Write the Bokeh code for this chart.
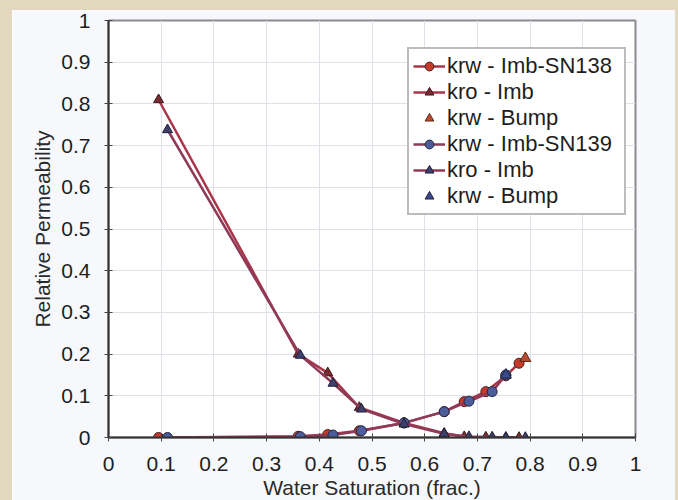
from bokeh.plotting import figure
from bokeh.models import Legend, LegendItem, Range1d, FixedTicker
from bokeh.embed import file_html
from bokeh.resources import INLINE

# Imbibition relative permeability, sample SN138
sw_138 = [0.095, 0.360, 0.416, 0.476, 0.561, 0.637, 0.675, 0.716, 0.754, 0.779]
krw_138 = [0.000, 0.003, 0.007, 0.016, 0.035, 0.062, 0.086, 0.110, 0.148, 0.178]
kro_138 = [0.810, 0.200, 0.155, 0.072, 0.035, 0.010, 0.002, 0.001, 0.000, 0.000]
bump_sw_138 = [0.791]
bump_krw_138 = [0.190]

# Imbibition relative permeability, sample SN139
sw_139 = [0.112, 0.364, 0.426, 0.480, 0.561, 0.637, 0.684, 0.728, 0.754, 0.791]
krw_139 = [0.000, 0.002, 0.006, 0.016, 0.035, 0.062, 0.087, 0.110, 0.150, None]
kro_139 = [0.738, 0.197, 0.130, 0.068, 0.032, 0.009, 0.002, 0.001, 0.000, 0.000]
bump_sw_139 = [0.754]
bump_krw_139 = [0.150]

ticks = [round(0.1 * i, 1) for i in range(11)]
tick_labels = {t: ("0" if t == 0 else ("1" if t == 1 else f"{t:g}")) for t in ticks}

FONT = "Liberation Sans"
BEIGE = "#e2d7bf"
PAGE = "#f6f8fb"

# the beige frame is drawn as CSS borders on the figure host; the canvas keeps
# the full 678x500 layout and is offset by the left/top borders
p = figure(
    width=678, height=500,
    x_range=Range1d(0, 1), y_range=Range1d(0, 1),
    output_backend="svg", toolbar_location=None,
    min_border_left=96, min_border_right=55,
    min_border_top=10, min_border_bottom=73,
    background_fill_color="#ffffff",
    border_fill_color=PAGE,
    outline_line_color="#8a8a8a", outline_line_width=2,
    styles={
        "border-top": f"10px solid {BEIGE}",
        "border-left": f"12px solid {BEIGE}",
        "border-right": f"3px solid {BEIGE}",
    },
)

for ax in (p.xaxis[0], p.yaxis[0]):
    ax.ticker = FixedTicker(ticks=ticks)
    ax.major_label_overrides = tick_labels
    ax.minor_tick_line_color = None
    ax.major_tick_in = 4
    ax.major_tick_out = 4
    ax.major_tick_line_color = "#444444"
    ax.axis_line_color = "#333333"
    ax.axis_line_width = 2
    ax.major_label_text_font = FONT
    ax.major_label_text_font_size = "21px"
    ax.major_label_text_color = "#1e1e1e"
    ax.axis_label_text_font = FONT
    ax.axis_label_text_font_style = "normal"
    ax.axis_label_text_color = "#2a2a2a"
    ax.axis_label_text_font_size = "21px"

p.xaxis.axis_label = "Water Saturation (frac.)"
p.xaxis.axis_label_standoff = 2
p.xaxis.major_label_standoff = 15
p.yaxis.axis_label = "Relative Permeability"
p.yaxis.axis_label_standoff = 4
p.yaxis.major_label_standoff = 14

p.xgrid.ticker = FixedTicker(ticks=ticks)
p.ygrid.ticker = FixedTicker(ticks=ticks)
p.grid.grid_line_color = "#dde2ea"
p.grid.grid_line_width = 1

# SN138 curves
LINE_138 = "#a8354a"
l_krw138 = p.line(sw_138, krw_138, line_color=LINE_138, line_width=2.5)
m_krw138 = p.scatter(sw_138, krw_138, marker="circle", size=10,
                     fill_color="#c63a2c", line_color="#4a1e22", line_width=1)
l_kro138 = p.line(sw_138, kro_138, line_color=LINE_138, line_width=2.5)
m_kro138 = p.scatter(sw_138, kro_138, marker="triangle", size=10,
                     fill_color="#7c2c30", line_color="#3a1a1e", line_width=1)
m_bump138 = p.scatter(bump_sw_138, bump_krw_138, marker="triangle", size=11,
                      fill_color="#bb4a2c", line_color="#5a2a1e", line_width=1)

# SN139 curves
LINE_139 = "#8e3a58"
sw_139w = [s for s, k in zip(sw_139, krw_139) if k is not None]
krw_139w = [k for k in krw_139 if k is not None]
l_krw139 = p.line(sw_139w, krw_139w, line_color=LINE_139, line_width=2.5)
m_krw139 = p.scatter(sw_139w, krw_139w, marker="circle", size=10,
                     fill_color="#4d5d9c", line_color="#22263e", line_width=1)
l_kro139 = p.line(sw_139, kro_139, line_color=LINE_139, line_width=2.5)
m_kro139 = p.scatter(sw_139, kro_139, marker="triangle", size=10,
                     fill_color="#3e3f6c", line_color="#1e1e34", line_width=1)
m_bump139 = p.scatter(bump_sw_139, bump_krw_139, marker="triangle", size=11,
                      fill_color="#3c4a8c", line_color="#1e2240", line_width=1)

legend = Legend(
    items=[
        LegendItem(label="krw - Imb-SN138", renderers=[l_krw138, m_krw138]),
        LegendItem(label="kro - Imb", renderers=[l_kro138, m_kro138]),
        LegendItem(label="krw - Bump", renderers=[m_bump138]),
        LegendItem(label="krw - Imb-SN139", renderers=[l_krw139, m_krw139]),
        LegendItem(label="kro - Imb", renderers=[l_kro139, m_kro139]),
        LegendItem(label="krw - Bump", renderers=[m_bump139]),
    ],
    location=(299, 222),
    label_text_font=FONT,
    label_text_font_size="22px",
    label_text_color="#1e1e1e",
    glyph_width=32, glyph_height=22,
    label_height=22, label_width=173, label_standoff=2,
    spacing=0, padding=4, margin=0,
    border_line_color="#7a7a7a", border_line_width=2,
    background_fill_color="#ffffff", background_fill_alpha=1,
)
p.add_layout(legend)

open("out.html", "w").write(file_html(p, INLINE))
